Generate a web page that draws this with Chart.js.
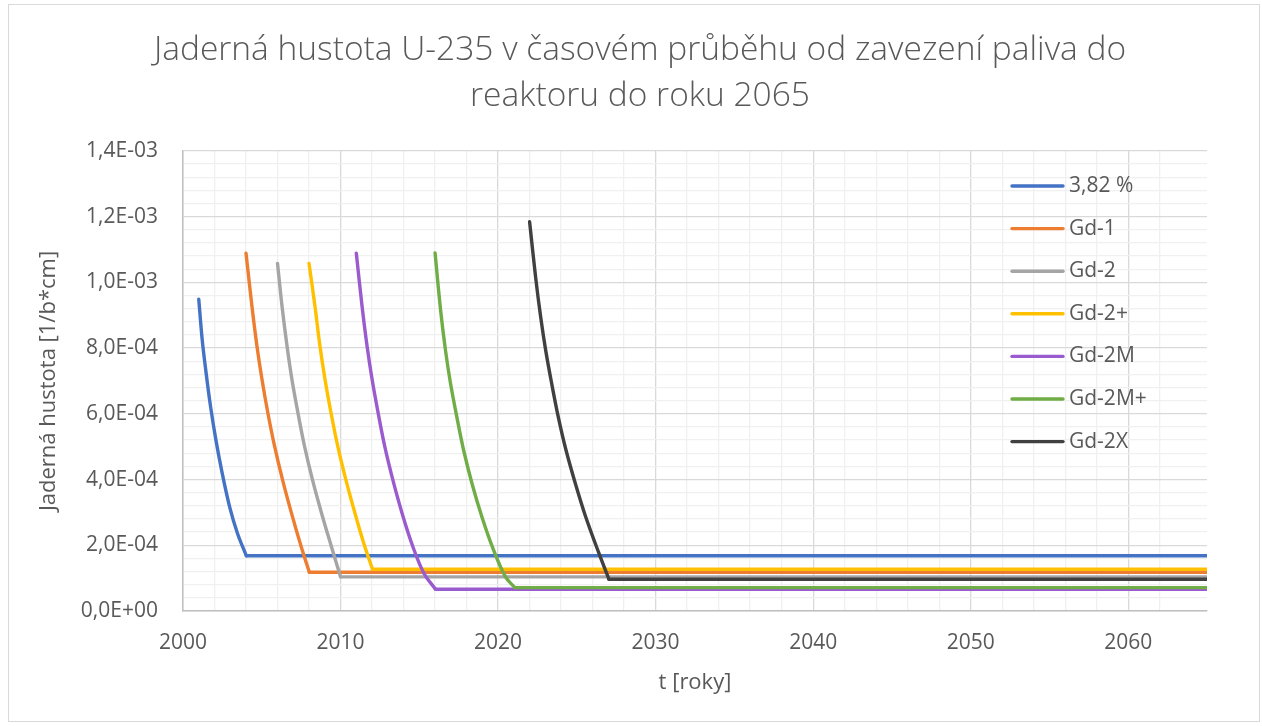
<!DOCTYPE html>
<html>
<head>
<meta charset="utf-8">
<script src="https://cdn.jsdelivr.net/npm/chart.js@4"></script>
<style>
  html, body { margin: 0; padding: 0; background: #fff; }
  #wrap { width: 1262px; height: 726px; }
</style>
</head>
<body>
<div id="wrap"><canvas id="myChart" width="1262" height="726"></canvas></div>
<script>
const seriesNames = ["3,82 %", "Gd-1", "Gd-2", "Gd-2+", "Gd-2M", "Gd-2M+", "Gd-2X"];
const seriesColors = ["#4472C4", "#ED7D31", "#A5A5A5", "#FFC000", "#9A5BCF", "#70AD47", "#404040"];

// years of each burn-up curve
const years382 = [2001, 2001.22, 2001.47, 2001.75, 2002.09, 2002.49, 2002.96, 2003.46, 2004.02];
const yearsGd1 = [2004, 2004.38, 2004.7, 2005.02, 2005.39, 2005.82, 2006.32, 2006.89, 2007.5, 2008.02];
const yearsGd2 = [2006, 2006.29, 2006.61, 2006.92, 2007.3, 2007.72, 2008.22, 2008.8, 2009.42, 2010];
const yearsGd2p = [2008, 2008.38, 2008.7, 2009.02, 2009.4, 2009.83, 2010.34, 2010.92, 2011.54, 2012.03];
const yearsGd2M = [2011, 2011.37, 2011.69, 2012.01, 2012.39, 2012.81, 2013.32, 2013.91, 2014.59, 2015.29, 2016.03];
const yearsGd2Mp = [2016, 2016.35, 2016.66, 2016.98, 2017.38, 2017.81, 2018.34, 2018.97, 2019.71, 2020.47, 2021.07];
const yearsGd2X = [2022, 2022.38, 2022.7, 2023.02, 2023.4, 2023.82, 2024.31, 2024.9, 2025.56, 2026.4, 2027.04];

// U-235 density [1/b*cm]
const dens382 = [9.49e-4, 8.25e-4, 7.23e-4, 6.22e-4, 5.20e-4, 4.19e-4, 3.17e-4, 2.36e-4, 1.68e-4];
const densGd1 = [1.089e-3, 9.26e-4, 8.04e-4, 7.03e-4, 6.02e-4, 5.0e-4, 3.99e-4, 2.97e-4, 1.96e-4, 1.18e-4];
const densGd2 = [1.058e-3, 9.26e-4, 8.04e-4, 7.03e-4, 6.02e-4, 5.0e-4, 3.99e-4, 2.97e-4, 1.96e-4, 1.04e-4];
const densGd2p = [1.058e-3, 9.26e-4, 8.04e-4, 7.03e-4, 6.02e-4, 5.0e-4, 3.99e-4, 2.97e-4, 1.96e-4, 1.27e-4];
const densGd2M = [1.089e-3, 9.26e-4, 8.04e-4, 7.03e-4, 6.02e-4, 5.0e-4, 3.99e-4, 2.97e-4, 1.96e-4, 1.15e-4, 0.66e-4];
const densGd2Mp = [1.09e-3, 9.16e-4, 7.94e-4, 6.93e-4, 5.91e-4, 4.9e-4, 3.89e-4, 2.87e-4, 1.86e-4, 1.04e-4, 0.71e-4];
const densGd2X = [1.185e-3, 1.017e-3, 8.96e-4, 7.94e-4, 6.93e-4, 5.91e-4, 4.9e-4, 3.89e-4, 2.87e-4, 1.76e-4, 0.965e-4];

const allYears = [years382, yearsGd1, yearsGd2, yearsGd2p, yearsGd2M, yearsGd2Mp, yearsGd2X];
const allDens = [dens382, densGd1, densGd2, densGd2p, densGd2M, densGd2Mp, densGd2X];

const titleLines = ["Jaderná hustota U-235 v časovém průběhu od zavezení paliva do", "reaktoru do roku 2065"];
const xMin = 2000, xMax = 2065;
const xLabelYears = [2000, 2010, 2020, 2030, 2040, 2050, 2060];
const yMax = 1.4e-3, yMajorStep = 2e-4, yMinorStep = 4e-5;

const TEXT = "#595959";
const FONT = "'Open Sans', 'DejaVu Sans', sans-serif";

function fmtExp(v) {
  const parts = v.toExponential(1).split("e");
  const e = parseInt(parts[1], 10);
  const sign = e < 0 ? "-" : "+";
  const ee = String(Math.abs(e)).padStart(2, "0");
  return parts[0].replace(".", ",") + "E" + sign + ee;
}

// each series: the decay curve (smooth) + the flat part up to 2065 (straight)
const datasets = [];
seriesNames.forEach((name, i) => {
  const pts = allYears[i].map((t, k) => ({ x: t, y: allDens[i][k] }));
  const last = pts[pts.length - 1];
  const common = {
    borderColor: seriesColors[i],
    backgroundColor: seriesColors[i],
    borderWidth: 3.4,
    pointRadius: 0,
    borderCapStyle: "round",
    borderJoinStyle: "round",
    fill: false,
    order: seriesNames.length - i,
  };
  datasets.push(Object.assign({ label: name, data: pts, tension: 0.35 }, common));
  datasets.push(Object.assign({ label: name + " ", data: [last, { x: xMax, y: last.y }], tension: 0 }, common));
});

// chart frame + title, centred on the whole frame like in Excel
const frame = {
  id: "frame",
  beforeDraw(chart) {
    const c = chart.ctx;
    c.save();
    c.fillStyle = "#fff";
    c.fillRect(0, 0, chart.width, chart.height);
    c.strokeStyle = "#d9d9d9";
    c.lineWidth = 1;
    c.strokeRect(8.5, 4.5, 1251, 717);
    c.fillStyle = TEXT;
    c.font = "300 33.5px " + FONT;
    c.textAlign = "center";
    c.textBaseline = "middle";
    titleLines.forEach((line, i) => c.fillText(line, 640, 50 + i * 46));
    c.restore();
  },
};

const excelLegend = {
  id: "excelLegend",
  afterDraw(chart) {
    const c = chart.ctx;
    c.save();
    c.font = "21px " + FONT;
    c.textBaseline = "middle";
    c.textAlign = "left";
    seriesNames.forEach((name, i) => {
      const y = 186 + i * 42.6;
      c.strokeStyle = seriesColors[i];
      c.lineWidth = 3.4;
      c.lineCap = "round";
      c.beginPath();
      c.moveTo(1012, y);
      c.lineTo(1063, y);
      c.stroke();
      c.fillStyle = TEXT;
      c.fillText(name, 1069, y);
    });
    c.restore();
  },
};

new Chart(document.getElementById("myChart"), {
  type: "line",
  data: { datasets: datasets },
  plugins: [frame, excelLegend],
  options: {
    responsive: false,
    animation: false,
    layout: { padding: { left: 8, right: 55, top: 151, bottom: 4 } },
    plugins: {
      legend: { display: false },
      tooltip: { enabled: false },
      title: { display: false },
    },
    scales: {
      x: {
        type: "linear",
        min: xMin,
        max: xMax,
        afterFit: (s) => { s.height = 111; },
        ticks: {
          stepSize: 2,
          autoSkip: false,
          maxRotation: 0,
          padding: 19,
          color: TEXT,
          font: { family: FONT, size: 21 },
          callback: (v) => (xLabelYears.includes(v) ? String(v) : ""),
        },
        grid: {
          drawTicks: false,
          lineWidth: 1.3,
          color: (ctx) => {
            const v = ctx.tick ? ctx.tick.value : 0;
            if (v % 10 === 0) return "#d9d9d9";
            if (v % 2 === 0) return "#f0f0f0";
            return "rgba(0,0,0,0)";
          },
        },
        border: { display: true, color: "#bfbfbf", width: 1.5 },
        title: {
          display: true,
          text: "t [roky]",
          color: TEXT,
          font: { family: FONT, size: 22 },
          padding: { top: 0, bottom: 26 },
        },
      },
      y: {
        min: 0,
        max: yMax,
        afterFit: (s) => { s.width = 175; },
        ticks: {
          stepSize: yMinorStep,
          autoSkip: false,
          padding: 25,
          color: TEXT,
          font: { family: FONT, size: 21 },
          callback: (v) => {
            const k = Math.round(v / yMinorStep);
            return k % Math.round(yMajorStep / yMinorStep) === 0 ? fmtExp(v) : "";
          },
        },
        grid: {
          drawTicks: false,
          lineWidth: 1.3,
          color: (ctx) => {
            const v = ctx.tick ? ctx.tick.value : 0;
            const k = Math.round(v / yMinorStep);
            return k % Math.round(yMajorStep / yMinorStep) === 0 ? "#d9d9d9" : "#f0f0f0";
          },
        },
        border: { display: true, color: "#bfbfbf", width: 1.5 },
        title: {
          display: true,
          text: "Jaderná hustota [1/b*cm]",
          color: TEXT,
          font: { family: FONT, size: 22 },
          padding: { top: 28, bottom: 0 },
        },
      },
    },
  },
});
</script>
</body>
</html>
